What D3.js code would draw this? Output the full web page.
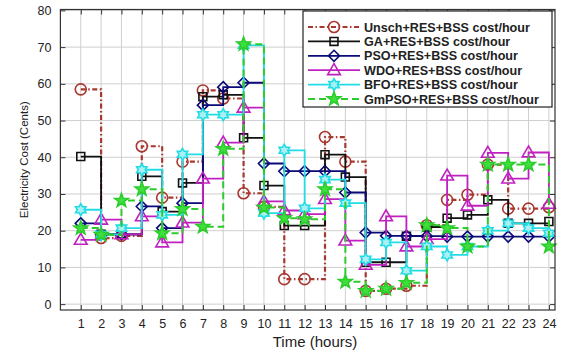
<!DOCTYPE html>
<html>
<head>
<meta charset="utf-8">
<script src="https://cdn.jsdelivr.net/npm/d3@7"></script>
<style>
  body { margin: 0; background: #fff; }
  text { font-family: Arial, "Liberation Sans", sans-serif; fill: #222; }
</style>
</head>
<body>
<svg id="chart" width="561" height="351"></svg>
<script>
// Hourly electricity cost (cents) for each scheduling scheme
const hours = [1,2,3,4,5,6,7,8,9,10,11,12,13,14,15,16,17,18,19,20,21,22,23,24];
const yTicks = [0,10,20,30,40,50,60,70,80];

const unschCost = [58.5, 18, 18.6, 43, 29, 38.8, 58.2, 56, 30.2, 26.5, 6.8, 6.8, 45.5, 38.8, 3.6, 4.2, 5, 21.5, 28.4, 29.8, 38, 26, 26, 26.4];
const gaCost    = [40.2, 19, 19, 34.8, 25.2, 33, 56.5, 57, 45.3, 32.3, 21.4, 21.4, 40.7, 34.6, 11.4, 11.4, 18.5, 21, 23.4, 24.3, 28.4, 22, 22, 22.5];
const psoCost   = [22, 19, 19, 26.6, 20.7, 27.5, 54.2, 59.1, 60.3, 38.3, 36.2, 36.2, 36.2, 30.4, 19.5, 18.6, 18.6, 18.5, 18.4, 18.4, 18.4, 18.4, 18.4, 18.4];
const wdoCost   = [17.5, 23, 19, 23.9, 16.8, 22.2, 34.2, 44, 53.5, 28, 25.5, 24.5, 28.6, 17.3, 10.7, 23.9, 15.7, 17.7, 35, 26.8, 41.2, 34.2, 41.3, 27.3];
const bfoCost   = [25.7, 19, 20.7, 36.6, 24.3, 40.8, 51.6, 51.6, 70.5, 24.8, 41.9, 26.1, 33.9, 27.5, 12.2, 16.8, 9.1, 15.7, 13.4, 15.7, 20, 22, 20.7, 19.3];
const gmpsoCost = [20.7, 18.9, 28.2, 31.3, 19.3, 25.9, 21.1, 42.3, 70.8, 26.3, 23.4, 23.1, 31.3, 6.1, 3.6, 4.2, 5.8, 21.5, 20.7, 15.7, 38, 38, 38, 15.7];

const seriesNames = [
  "Unsch+RES+BSS cost/hour",
  "GA+RES+BSS cost/hour",
  "PSO+RES+BSS cost/hour",
  "WDO+RES+BSS cost/hour",
  "BFO+RES+BSS cost/hour",
  "GmPSO+RES+BSS cost/hour"
];

// marker outlines, centred on the origin
function starPath(n, rOut, rIn) {
  const pts = [];
  for (let i = 0; i < 2 * n; i++) {
    const a = -Math.PI / 2 + i * Math.PI / n;
    const r = i % 2 ? rIn : rOut;
    pts.push([r * Math.cos(a), r * Math.sin(a)]);
  }
  return "M" + pts.map(p => p[0].toFixed(2) + "," + p[1].toFixed(2)).join("L") + "Z";
}
const markers = {
  circle:   r => `M${r},0A${r},${r} 0 1 1 ${-r},0A${r},${r} 0 1 1 ${r},0Z`,
  square:   r => { const s = r * 0.72; return `M${-s},${-s}H${s}V${s}H${-s}Z`; },
  diamond:  r => `M0,${-r}L${r},0L0,${r}L${-r},0Z`,
  triangle: r => `M0,${-r}L${r * 0.98},${r * 0.68}L${-r * 0.98},${r * 0.68}Z`,
  hexagram: r => starPath(6, r, r * 0.58),
  pentagram: r => starPath(5, r * 1.1, r * 0.45)
};

const series = [
  { name: seriesNames[0], values: unschCost, color: "#a8372f", dash: "5,2.5,1.5,2.5", width: 2.2, marker: "circle",    size: 5.5, fill: "none" },
  { name: seriesNames[1], values: gaCost,    color: "#111111", dash: null,            width: 1.8, marker: "square",    size: 5.5, fill: "none" },
  { name: seriesNames[2], values: psoCost,   color: "#0a0a78", dash: null,            width: 1.8, marker: "diamond",   size: 5.5, fill: "none" },
  { name: seriesNames[3], values: wdoCost,   color: "#c020c0", dash: null,            width: 1.8, marker: "triangle",  size: 6.5, fill: "none" },
  { name: seriesNames[4], values: bfoCost,   color: "#22dce4", dash: null,            width: 1.8, marker: "hexagram",  size: 6,   fill: "#a8f0f4" },
  { name: seriesNames[5], values: gmpsoCost, color: "#2ccc2c", dash: "7,4",           width: 2.0, marker: "pentagram", size: 6.5, fill: "#3ee03e" }
];

const svg = d3.select("#chart");
const W = 561, H = 351;
const plot = { left: 60.4, right: 555, top: 9.5, bottom: 310 };

const x = d3.scaleLinear().domain([0, 24.3]).range([plot.left, plot.right]);
const y = d3.scaleLinear().domain([-1.6, 80]).range([plot.bottom, 10.4]);

svg.append("rect").attr("width", W).attr("height", H).attr("fill", "#fff");

// grid
const grid = svg.append("g");
grid.selectAll("line.v").data(hours).join("line")
  .attr("x1", d => x(d)).attr("x2", d => x(d))
  .attr("y1", plot.top).attr("y2", plot.bottom)
  .attr("stroke", "#cfcfcf").attr("stroke-width", 1);
grid.selectAll("line.h").data(yTicks).join("line")
  .attr("x1", plot.left).attr("x2", plot.right)
  .attr("y1", d => y(d)).attr("y2", d => y(d))
  .attr("stroke", "#cfcfcf").attr("stroke-width", 1);

// axes (ticks pointing inward on all four sides)
const xAxisB = d3.axisBottom(x).tickValues(hours).tickSize(-5).tickPadding(9).tickFormat(d3.format("d"));
const xAxisT = d3.axisTop(x).tickValues(hours).tickSize(-5).tickFormat("");
const yAxisL = d3.axisLeft(y).tickValues(yTicks).tickSize(-5).tickPadding(9).tickFormat(d3.format("d"));
const yAxisR = d3.axisRight(y).tickValues(yTicks).tickSize(-5).tickFormat("");

function styleAxis(g) {
  g.select(".domain").remove();
  g.selectAll(".tick line").attr("stroke", "#333").attr("stroke-width", 1);
  g.selectAll(".tick text").style("font-size", "12.5px").attr("fill", "#222");
}
svg.append("g").attr("transform", `translate(0,${plot.bottom})`).call(xAxisB).call(styleAxis);
svg.append("g").attr("transform", `translate(0,${plot.top})`).call(xAxisT).call(styleAxis);
svg.append("g").attr("transform", `translate(${plot.left},0)`).call(yAxisL).call(styleAxis);
svg.append("g").attr("transform", `translate(${plot.right},0)`).call(yAxisR).call(styleAxis);

// stairs + markers
const stairs = d3.line().x((d, i) => x(hours[i])).y(d => y(d)).curve(d3.curveStepAfter);
const layers = svg.append("g");
series.forEach(s => {
  const g = layers.append("g");
  g.append("path").attr("d", stairs(s.values))
    .attr("fill", "none").attr("stroke", s.color).attr("stroke-width", s.width)
    .attr("stroke-dasharray", s.dash);
  g.selectAll("path.m").data(s.values).join("path")
    .attr("class", "m")
    .attr("transform", (d, i) => `translate(${x(hours[i])},${y(d)})`)
    .attr("d", markers[s.marker](s.size))
    .attr("fill", s.fill).attr("stroke", s.color).attr("stroke-width", 1.6);
});

// frame
svg.append("rect")
  .attr("x", plot.left).attr("y", plot.top)
  .attr("width", plot.right - plot.left).attr("height", plot.bottom - plot.top)
  .attr("fill", "none").attr("stroke", "#333").attr("stroke-width", 1.2);

// axis titles
svg.append("text")
  .attr("transform", `translate(24,${(plot.top + plot.bottom) / 2}) rotate(-90)`)
  .attr("text-anchor", "middle").attr("dy", "0.35em")
  .style("font-size", "11.5px").text("Electricity Cost (Cents)");
svg.append("text")
  .attr("x", 315).attr("y", 347).attr("text-anchor", "middle")
  .style("font-size", "15px").text("Time (hours)");

// legend
const leg = svg.append("g");
leg.append("rect").attr("x", 303).attr("y", 11).attr("width", 249).attr("height", 96)
  .attr("fill", "#fff").attr("stroke", "#222").attr("stroke-width", 1.2);
series.forEach((s, i) => {
  const ly = 27 + i * 14.4;
  const row = leg.append("g");
  row.append("line").attr("x1", 308).attr("x2", 360).attr("y1", ly).attr("y2", ly)
    .attr("stroke", s.color).attr("stroke-width", s.width).attr("stroke-dasharray", s.dash);
  row.append("path").attr("transform", `translate(334,${ly})`)
    .attr("d", markers[s.marker](s.size))
    .attr("fill", s.fill).attr("stroke", s.color).attr("stroke-width", 1.6);
  row.append("text").attr("x", 364).attr("y", ly).attr("dy", "0.36em")
    .style("font-size", "12.6px").style("font-weight", "bold").attr("fill", "#1a1a1a")
    .text(s.name);
});
</script>
</body>
</html>
